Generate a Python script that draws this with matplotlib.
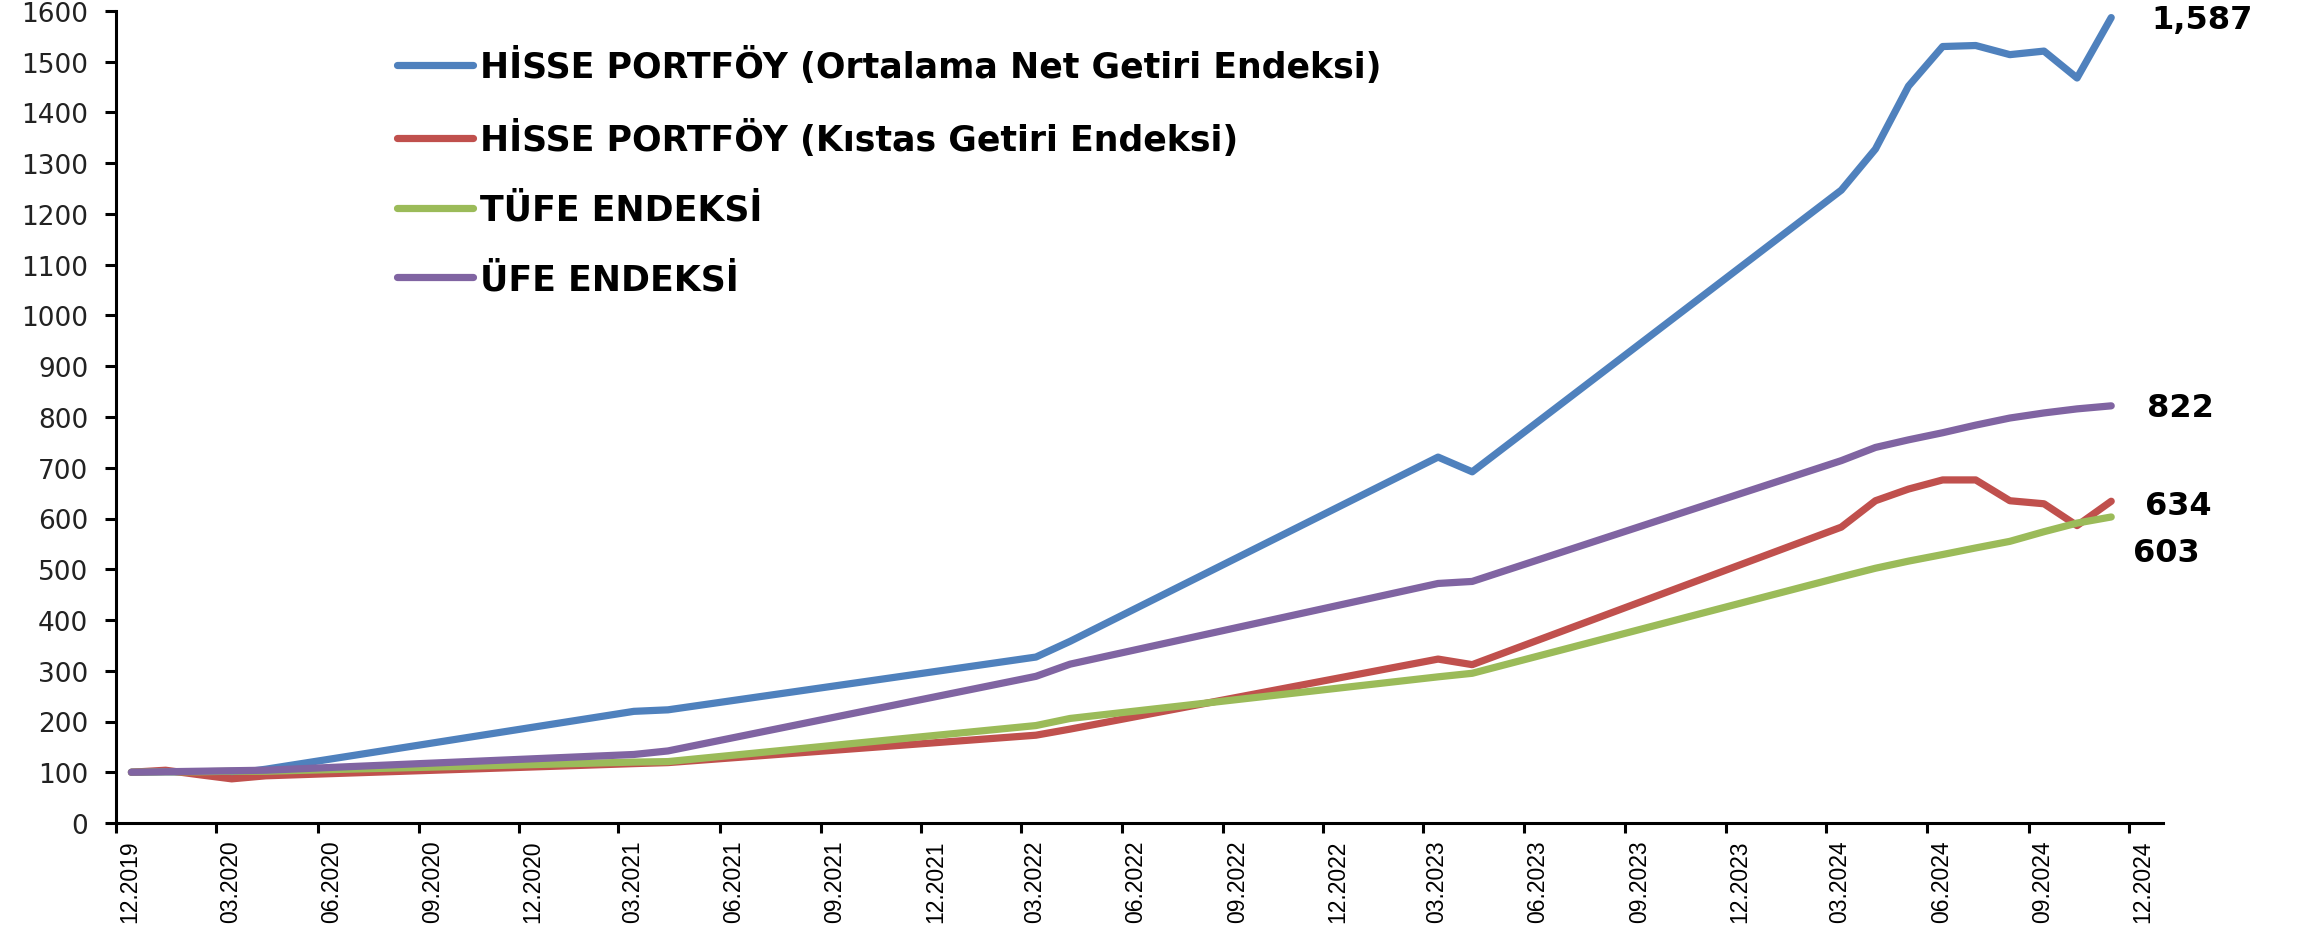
import matplotlib

matplotlib.use("Agg")
import matplotlib.pyplot as plt
import matplotlib.dates as mdates
import matplotlib.transforms as mtransforms
import pandas as pd

dates = ["12.2019", "01.2020", "02.2020", "03.2020", "04.2020", "03.2021", "04.2021",
         "03.2022", "04.2022", "03.2023", "04.2023", "03.2024", "04.2024", "05.2024",
         "06.2024", "07.2024", "08.2024", "09.2024", "10.2024", "11.2024"]
hisse_net = [100, 101, 100, 97, 106, 220, 223, 327, 358, 721, 692, 1247, 1328, 1452,
             1530, 1532, 1514, 1521, 1468, 1587]
hisse_kistas = [100, 104, 95, 87, 93, 117, 119, 173, 185, 323, 312, 583, 635, 658,
                676, 676, 635, 629, 586, 634]
tufe = [100, 101, 101, 102, 102, 120, 121, 192, 206, 288, 295, 485, 502, 516,
        529, 542, 555, 574, 591, 603]
ufe = [100, 101, 102, 103, 104, 135, 142, 289, 313, 472, 476, 714, 740, 755,
       769, 784, 798, 808, 816, 822]

series = [
    ("HİSSE PORTFÖY (Ortalama Net Getiri Endeksi)", hisse_net, "#4F81BD", "1,587"),
    ("HİSSE PORTFÖY (Kıstas Getiri Endeksi)", hisse_kistas, "#C0504D", "634"),
    ("TÜFE ENDEKSİ", tufe, "#9BBB59", "603"),
    ("ÜFE ENDEKSİ", ufe, "#8064A2", "822"),
]
# end label offsets in pixels (dx, dy)
label_offsets = {"1,587": (40, -2), "634": (34, -4), "603": (22, -36), "822": (36, -2)}

x = pd.to_datetime(dates, format="%m.%Y") + pd.Timedelta(days=14)

W, H = 2305, 928
fig = plt.figure(figsize=(W / 100, H / 100), dpi=100)
left, right, bottom_px, top_px = 116, 2163, 824, 12
ax = fig.add_axes([left / W, 1 - bottom_px / H, (right - left) / W, (bottom_px - top_px) / H])

for name, vals, color, lab in series:
    ax.plot(x, vals, color=color, linewidth=5.2, label=name, solid_capstyle="round",
            solid_joinstyle="round")
    dx, dy = label_offsets[lab]
    ax.annotate(lab, (x[-1], vals[-1]), xytext=(dx, dy), textcoords="offset pixels",
                ha="left", va="center", fontsize=23, fontweight="bold",
                family="DejaVu Sans", annotation_clip=False)

ax.set_ylim(0, 1600)
ax.set_yticks(range(0, 1601, 100))
ax.set_xlim(pd.Timestamp("2019-12-01"), pd.Timestamp("2025-01-01"))
ticks = pd.date_range("2019-12-01", "2024-12-01", freq="3MS")
ax.set_xticks(ticks)
ax.xaxis.set_major_formatter(mdates.DateFormatter("%m.%Y"))

for side in ["top", "right"]:
    ax.spines[side].set_visible(False)
for side in ["left", "bottom"]:
    ax.spines[side].set_linewidth(2.2)
    ax.spines[side].set_color("black")

ax.tick_params(axis="y", direction="out", length=8, width=2.2, pad=12, labelsize=19,
               colors="black", labelcolor="#222222")
ax.tick_params(axis="x", direction="out", length=7, width=2.2, pad=5, labelsize=16.5,
               colors="black")
for t in ax.get_xticklabels():
    t.set_rotation(90)
    t.set_family("Liberation Sans")
    t.set_transform(t.get_transform() + mtransforms.ScaledTranslation(0.14, 0, fig.dpi_scale_trans))

leg = ax.legend(loc="upper left", bbox_to_anchor=(397 / W, 1 - 47 / H),
                bbox_transform=fig.transFigure, frameon=False, borderpad=0,
                borderaxespad=0, handlelength=2.2, handletextpad=0.2,
                labelspacing=1.02, prop={"family": "DejaVu Sans", "weight": "bold", "size": 25})
for line in leg.get_lines():
    line.set_linewidth(5.2)

fig.savefig("out.png", dpi=100, facecolor="white")
